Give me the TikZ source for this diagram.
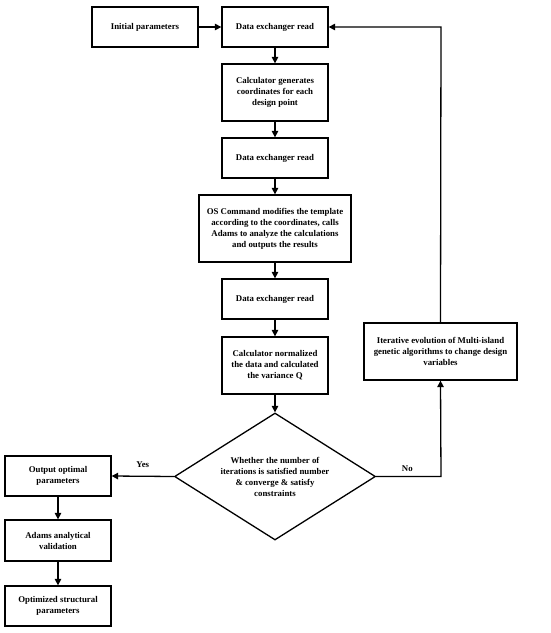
\documentclass[tikz,border=0pt]{standalone}
\usepackage{fontspec}
\setmainfont{Liberation Serif}
\usetikzlibrary{shapes.geometric,arrows.meta}
\begin{document}
\begin{tikzpicture}[x=1pt,y=-1pt,
  box/.style={draw,line width=1.3pt,rectangle,inner sep=0pt,align=center,
    font=\fontsize{8.8}{11}\selectfont\bfseries},
  arr/.style={line width=1.3pt,-{Triangle[length=6.5pt,width=6.5pt]}},
  lab/.style={font=\fontsize{8.8}{11}\selectfont\bfseries}]
\useasboundingbox (0,0) rectangle (550,633);
% boxes: (center), width, height
\node[box,minimum width=106pt,minimum height=40pt] (init) at (145,27) {Initial parameters};
\node[box,minimum width=106pt,minimum height=40pt] (de1) at (275,27) {Data exchanger read};
\node[box,minimum width=106pt,minimum height=57pt] (calc1) at (275,92.5) {Calculator generates\\coordinates for each\\design point};
\node[box,minimum width=106pt,minimum height=40pt] (de2) at (275,158) {Data exchanger read};
\node[box,minimum width=152pt,minimum height=67pt] (os) at (275,228.5) {OS Command modifies the template\\according to the coordinates, calls\\Adams to analyze the calculations\\and outputs the results};
\node[box,minimum width=106pt,minimum height=40pt] (de3) at (275,299) {Data exchanger read};
\node[box,minimum width=106pt,minimum height=57pt] (calc2) at (275,365.5) {Calculator normalized\\the data and calculated\\the variance Q};
\node[box,diamond,minimum width=201pt,minimum height=127pt,aspect=1.58] (dia) at (275,476.5) {Whether the number of\\iterations is satisfied number\\\& converge \& satisfy\\constraints};
\node[box,minimum width=153pt,minimum height=57pt] (iter) at (440.5,351.5) {Iterative evolution of Multi-island\\genetic algorithms to change design\\variables};
\node[box,minimum width=106pt,minimum height=40pt] (out) at (58,476) {Output optimal\\parameters};
\node[box,minimum width=106pt,minimum height=41pt] (adams) at (58,540.5) {Adams analytical\\validation};
\node[box,minimum width=106pt,minimum height=40pt] (opt) at (58,606) {Optimized structural\\parameters};
% connectors
\draw[arr] (init) -- (de1);
\draw[arr] (de1) -- (calc1);
\draw[arr] (calc1) -- (de2);
\draw[arr] (de2) -- (os);
\draw[arr] (os) -- (de3);
\draw[arr] (de3) -- (calc2);
\draw[arr] (calc2) -- (dia);
\draw[arr] (dia.west) -- node[lab,above,pos=0.5,yshift=5pt] (yes) {Yes} (out.east);
\coordinate (c1) at (441,476.5);
\coordinate (c2) at (441,27);
\draw[arr] (dia.east) -- node[lab,above,pos=0.48,yshift=1pt] (no) {No} (c1) -- (iter.south);
\draw[arr] (iter.north) -- (c2) -- (de1.east);
\draw[arr] (out) -- (adams);
\draw[arr] (adams) -- (opt);
\end{tikzpicture}
\end{document}
